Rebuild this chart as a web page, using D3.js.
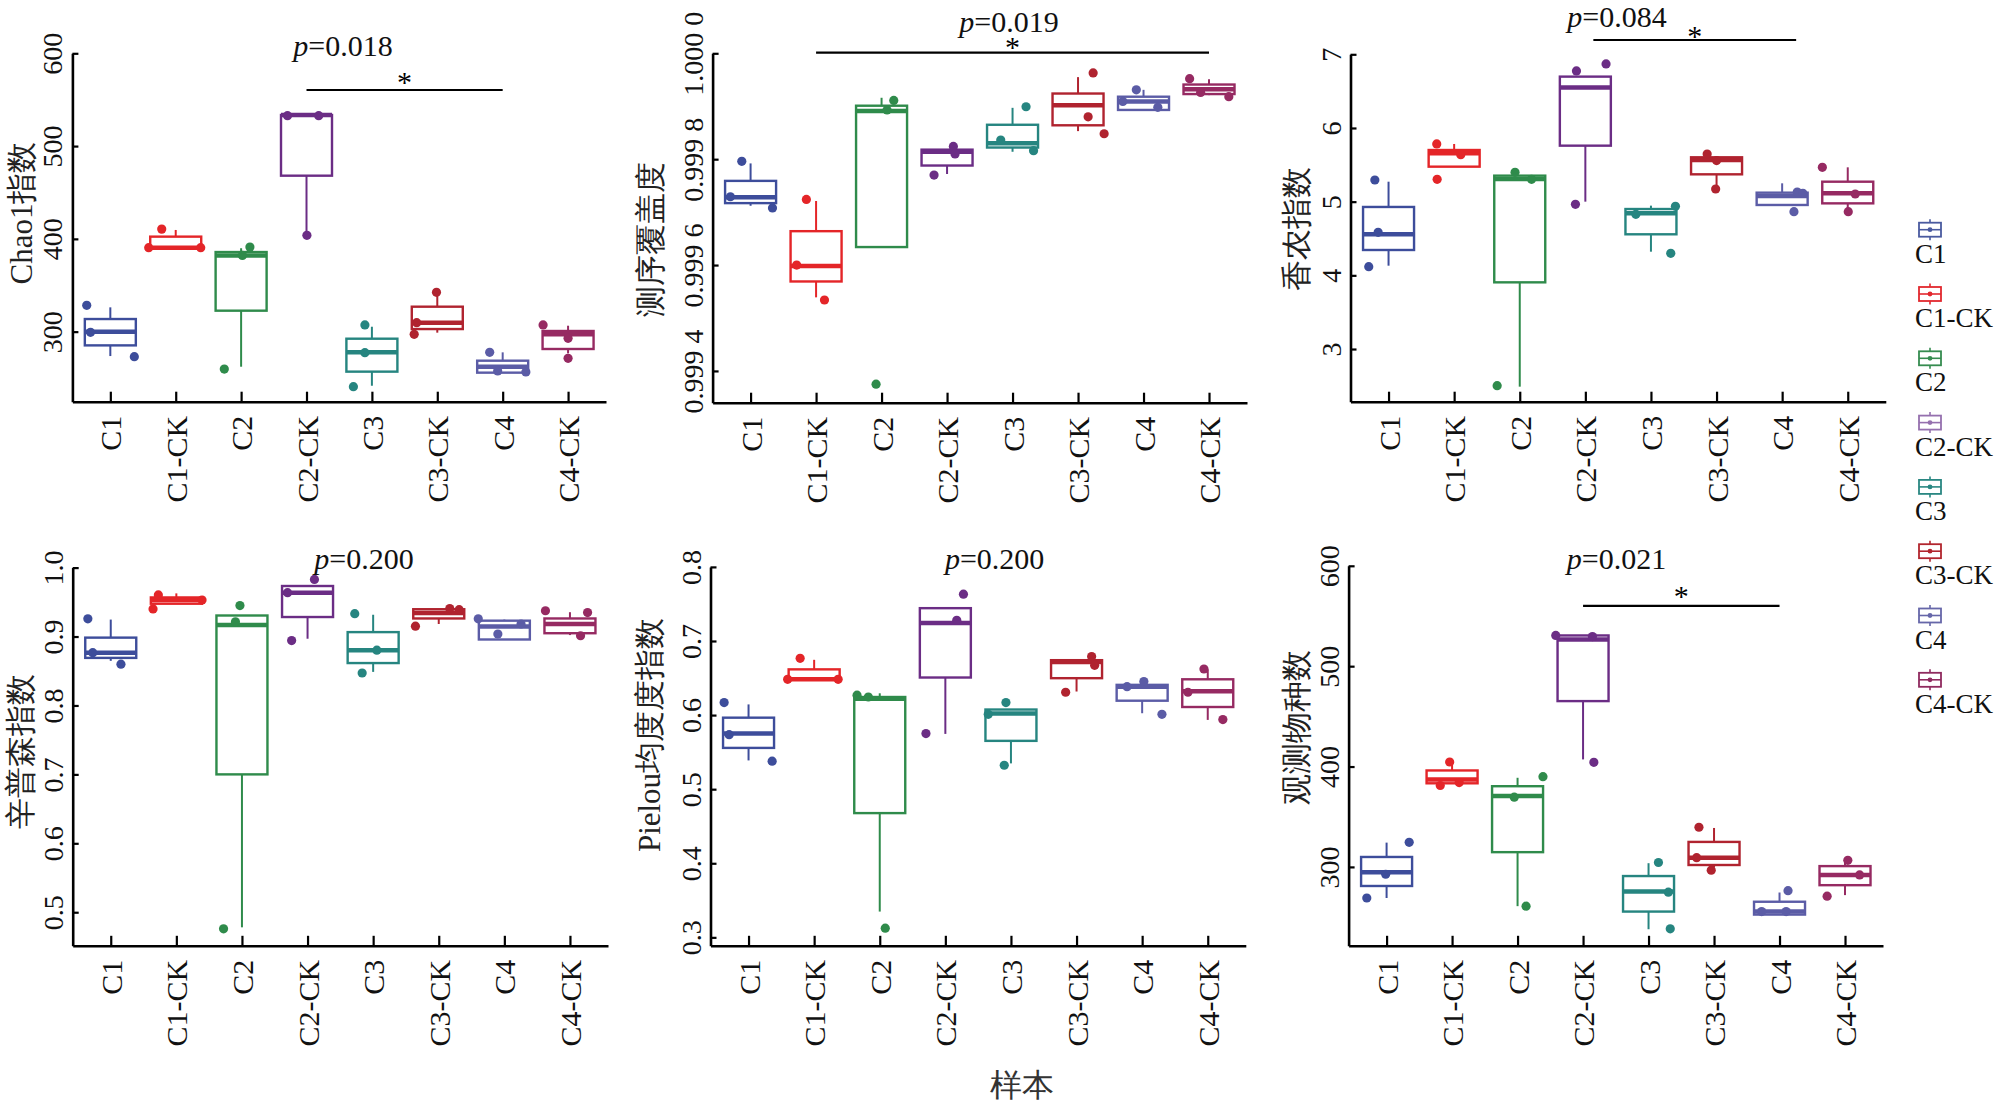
<!DOCTYPE html>
<html>
<head>
<meta charset="utf-8">
<script src="https://cdn.jsdelivr.net/npm/d3@7"></script>
<style>
  body { margin: 0; background: #fff; }
</style>
</head>
<body>
<div id="chart"></div>
<script>
//////////////////// data ////////////////////
const groups = ["C1", "C1-CK", "C2", "C2-CK", "C3", "C3-CK", "C4", "C4-CK"];
const groupColors = ["#3d4d9b", "#e42528", "#2f8b4b", "#6b2d85", "#268580", "#b0232f", "#5b5ca6", "#962a62"];
const legendColors = ["#4a5a9f", "#e2282e", "#368c50", "#9570ae", "#2a8782", "#b2262e", "#6667a9", "#8f2b5f"];

// box stats per group: [lower whisker, q1, median, q3, upper whisker]
const chao1Box = [
  [273.7, 285.2, 300.0, 313.6, 326.2], [390.5, 390.5, 390.5, 402.4, 409.6],
  [262.2, 322.6, 382.0, 385.8, 389.9], [408.0, 468.1, 533.5, 533.5, 533.5],
  [241.7, 256.9, 277.7, 292.4, 305.3], [298.9, 302.8, 309.7, 326.9, 339.5],
  [255.8, 255.8, 262.2, 268.7, 277.7], [276.6, 281.3, 297.1, 300.7, 306.4]
];
const chao1Pts = [
  [328.4, 299.3, 273.0], [410.5, 390.5, 390.5], [391.1, 382.1, 259.7], [532.8, 532.8, 403.8],
  [307.2, 277.3, 240.7], [342.4, 309.7, 297.1], [277.7, 257.6, 256.5], [307.2, 292.8, 271.2]
];
const chao1Domain = [224.5, 600];
const chao1Ticks = [300, 400, 500, 600];

const coverageBox = [
  [0.999712, 0.999717, 0.999728, 0.999759, 0.999792], [0.999539, 0.999569, 0.999598, 0.999664, 0.999721],
  [0.999634, 0.999634, 0.999891, 0.999901, 0.999916], [0.999772, 0.999788, 0.999814, 0.999818, 0.999818],
  [0.999814, 0.999822, 0.999830, 0.999865, 0.999897], [0.999853, 0.999864, 0.999902, 0.999924, 0.999955],
  [0.999893, 0.999893, 0.999909, 0.999918, 0.999931], [0.999921, 0.999923, 0.999932, 0.999941, 0.999951]
];
const coveragePts = [
  [0.999796, 0.999729, 0.999708], [0.999724, 0.999600, 0.999534], [0.999911, 0.999893, 0.999375],
  [0.999824, 0.999810, 0.999770], [0.999899, 0.999836, 0.999816], [0.999963, 0.999880, 0.999848],
  [0.999931, 0.999909, 0.999898], [0.999952, 0.999926, 0.999918]
];
const coverageDomain = [0.99934, 1.0];
const coverageTicks = [0.9994, 0.9996, 0.9998, 1.0];
const coverageTickLabels = ["0.999 4", "0.999 6", "0.999 8", "1.000 0"];

const shannonBox = [
  [4.131, 4.344, 4.557, 4.928, 5.271], [5.475, 5.475, 5.656, 5.701, 5.783],
  [2.489, 3.905, 5.308, 5.353, 5.353], [5.000, 5.760, 6.548, 6.697, 6.697],
  [4.321, 4.557, 4.842, 4.900, 4.946], [5.226, 5.371, 5.566, 5.602, 5.602],
  [4.955, 4.955, 5.077, 5.122, 5.249], [4.878, 4.977, 5.113, 5.271, 5.466]
];
const shannonPts = [
  [5.294, 4.584, 4.118], [5.783, 5.638, 5.303], [5.398, 5.303, 2.502], [6.869, 6.774, 4.964],
  [4.937, 4.828, 4.299], [5.647, 5.557, 5.172], [5.131, 5.113, 4.864], [5.466, 5.104, 4.864]
];
const shannonDomain = [2.285, 7];
const shannonTicks = [3, 4, 5, 6, 7];

const simpsonBox = [
  [0.8647, 0.8690, 0.8765, 0.8984, 0.9246], [0.9476, 0.9476, 0.9529, 0.9567, 0.9626],
  [0.4781, 0.7000, 0.9166, 0.9305, 0.9305], [0.8968, 0.9283, 0.9636, 0.9733, 0.9733],
  [0.8487, 0.8615, 0.8802, 0.9064, 0.9316], [0.9182, 0.9262, 0.9342, 0.9396, 0.9396],
  [0.8957, 0.8957, 0.9144, 0.9230, 0.9246], [0.9021, 0.9048, 0.9182, 0.9262, 0.9353]
];
const simpsonPts = [
  [0.9257, 0.8765, 0.8599], [0.9604, 0.9401, 0.9529], [0.9449, 0.9214, 0.4759], [0.9829, 0.9636, 0.8941],
  [0.9332, 0.8802, 0.8471], [0.9406, 0.9390, 0.9150], [0.9257, 0.9182, 0.9037], [0.9374, 0.9348, 0.9011]
];
const simpsonDomain = [0.4513, 1.0];
const simpsonTicks = [0.5, 0.6, 0.7, 0.8, 0.9, 1.0];

const pielouBox = [
  [0.5388, 0.5557, 0.5751, 0.5965, 0.6144], [0.6483, 0.6483, 0.6483, 0.6617, 0.6746],
  [0.3348, 0.4677, 0.6219, 0.6244, 0.6294], [0.5746, 0.6507, 0.7244, 0.7443, 0.7443],
  [0.5348, 0.5652, 0.6020, 0.6075, 0.6075], [0.6318, 0.6498, 0.6716, 0.6741, 0.6741],
  [0.6025, 0.6194, 0.6383, 0.6408, 0.6418], [0.5935, 0.6109, 0.6323, 0.6483, 0.6617]
];
const pielouPts = [
  [0.6169, 0.5736, 0.5378], [0.6766, 0.6483, 0.6483], [0.6269, 0.6244, 0.3124], [0.7632, 0.7279, 0.5751],
  [0.6169, 0.6010, 0.5323], [0.6791, 0.6672, 0.6308], [0.6453, 0.6383, 0.6010], [0.6622, 0.6308, 0.5940]
];
const pielouDomain = [0.2886, 0.8];
const pielouTicks = [0.3, 0.4, 0.5, 0.6, 0.7, 0.8];

const observedBox = [
  [269.0, 281.0, 294.6, 309.9, 324.2], [383.3, 383.3, 387.0, 396.1, 404.5],
  [260.9, 314.7, 370.6, 380.4, 388.8], [407.1, 465.2, 526.6, 530.6, 530.6],
  [237.9, 255.5, 275.6, 290.9, 303.7], [299.3, 301.9, 309.2, 324.9, 338.8],
  [252.5, 252.5, 255.5, 265.3, 274.5], [271.9, 281.8, 292.0, 300.8, 304.8]
];
const observedPts = [
  [324.5, 292.7, 269.0], [404.5, 384.0, 381.1], [389.9, 369.5, 260.9], [530.6, 529.5, 404.2],
  [304.4, 274.8, 238.3], [339.5, 309.2, 296.7], [276.3, 255.5, 255.5], [306.6, 292.0, 270.8]
];
const observedDomain = [221.4, 600];
const observedTicks = [300, 400, 500, 600];

//////////////////// layout ////////////////////
// serif latin first; CJK glyphs fall back to Noto CJK
const fontStack = "'Liberation Serif', 'DejaVu Serif', serif";

// horizontal jitter of the points (px)
const chao1Jitter = [[-23.6, -19.8, 24], [-14, -27, 25], [8.8, 1.3, -16.8], [-19, 12.2, 0.4],
  [-7, -7, -18.5], [-0.8, -20.6, -23.1], [-13, -5, 23.2], [-25, 0, 0]];
const coverageJitter = [[-8.8, -20.2, 21.9], [-9.7, -19.4, 8.4], [12.2, 5.5, -5.5], [6.3, 8, -13],
  [13.5, -11.8, 21], [15.1, 10.1, 26.1], [-7.2, -20.7, 14.3], [-19.4, -8.4, 19.8]];
const shannonJitter = [[-13.7, -10.4, -19.8], [-17.4, 6.6, -17], [-4.7, 11.8, -22.6], [20.7, -8.9, -9.9],
  [24.5, -15.1, 19.8], [-9.4, 0, -0.9], [15.1, 20.7, 11.8], [-25.4, 7.5, 0.5]];
const simpsonJitter = [[-22.9, -18, 10.2], [-18, -23.3, 25.7], [-2, -6.5, -18.4], [6.9, -20, -15.9],
  [-18.4, 3.7, -11], [11, 20.4, -23.3], [-26.1, 16.7, -6.5], [-24.5, 17.6, 10.6]];
const pielouJitter = [[-24.4, -19.4, 23.6], [-14, -26.5, 24], [-22.7, -11.4, 5.5], [18.1, 11.4, -19.4],
  [-5, -22.7, -6.7], [15.1, 18.1, -10.9], [1.7, -15.1, 19.8], [-3.8, -19.8, 15.1]];
const observedJitter = [[22.6, -0.9, -19.8], [-2.4, 7.1, -11.8], [25.4, -3.3, 8.5], [-27.3, 9.4, 10.8],
  [9.9, 19.8, 21.7], [-15.1, -17.4, -2.8], [8.5, -17.9, 6.6], [2.8, 14.6, -17.9]];

const panels = [
  { box: chao1Box, pts: chao1Pts, jit: chao1Jitter, domain: chao1Domain, ticks: chao1Ticks,
    left: 72.4, right: 606, top: 53.3, bottom: 401.7,
    title: "Chao1指数", titleX: 32, titleY: 213,
    pText: "0.018", pX: 343, pY: 56, sig: ["C2-CK", "C4"], sigY: 90, starY: 92 },
  { box: coverageBox, pts: coveragePts, jit: coverageJitter, domain: coverageDomain, ticks: coverageTicks,
    tickLabels: coverageTickLabels, left: 712.6, right: 1247, top: 53.3, bottom: 402.7,
    title: "测序覆盖度", titleX: 661, titleY: 239,
    pText: "0.019", pX: 1009, pY: 31.7, sig: ["C1-CK", "C4-CK"], sigY: 52.7, starY: 56.7 },
  { box: shannonBox, pts: shannonPts, jit: shannonJitter, domain: shannonDomain, ticks: shannonTicks,
    left: 1350.5, right: 1885.8, top: 54.3, bottom: 401.7,
    title: "香农指数", titleX: 1307, titleY: 229,
    pText: "0.084", pX: 1617, pY: 27, sig: ["C2-CK", "C4"], sigShift: [8, 14], sigY: 40, starY: 45.7 },
  { box: simpsonBox, pts: simpsonPts, jit: simpsonJitter, domain: simpsonDomain, ticks: simpsonTicks,
    tickFormat: d3.format(".1f"), left: 72.7, right: 608, top: 567.6, bottom: 945.8,
    title: "辛普森指数", titleX: 31, titleY: 751,
    pText: "0.200", pX: 364, pY: 568.7 },
  { box: pielouBox, pts: pielouPts, jit: pielouJitter, domain: pielouDomain, ticks: pielouTicks,
    tickFormat: d3.format(".1f"), left: 710.5, right: 1245.8, top: 566.9, bottom: 945.8,
    title: "Pielou均度度指数", titleX: 660, titleY: 735,
    pText: "0.200", pX: 994.6, pY: 568.7 },
  { box: observedBox, pts: observedPts, jit: observedJitter, domain: observedDomain, ticks: observedTicks,
    left: 1348.6, right: 1883, top: 565.8, bottom: 945.8,
    title: "观测物种数", titleX: 1307, titleY: 727,
    pText: "0.021", pX: 1616.5, pY: 568.7, sig: ["C2-CK", "C4"], sigY: 605.9, starY: 605.8 }
];

const boxWidth = 51;

const svg = d3.select("#chart")
  .append("svg")
  .attr("width", 1999)
  .attr("height", 1105)
  .style("background", "#fff")
  .style("font-family", fontStack);

function drawPanel(p) {
  const g = svg.append("g");
  const x = d3.scalePoint().domain(groups).range([p.left, p.right]).padding(0.58);
  const y = d3.scaleLinear().domain(p.domain).range([p.bottom, p.top]);

  //boxes
  groups.forEach((grp, i) => {
    const [lo, q1, med, q3, hi] = p.box[i];
    const cx = x(grp);
    const col = groupColors[i];
    const bg = g.append("g");
    bg.append("line").attr("x1", cx).attr("x2", cx).attr("y1", y(lo)).attr("y2", y(q1))
      .attr("stroke", col).attr("stroke-width", 2);
    bg.append("line").attr("x1", cx).attr("x2", cx).attr("y1", y(q3)).attr("y2", y(hi))
      .attr("stroke", col).attr("stroke-width", 2);
    bg.append("rect")
      .attr("x", cx - boxWidth / 2).attr("width", boxWidth)
      .attr("y", y(q3)).attr("height", Math.max(0.5, y(q1) - y(q3)))
      .attr("fill", "#fff").attr("stroke", col).attr("stroke-width", 2.4);
    bg.append("line").attr("x1", cx - boxWidth / 2).attr("x2", cx + boxWidth / 2)
      .attr("y1", y(med)).attr("y2", y(med))
      .attr("stroke", col).attr("stroke-width", 4.5);
  });

  //jittered points on top
  groups.forEach((grp, i) => {
    g.append("g").selectAll("circle")
      .data(p.pts[i])
      .join("circle")
      .attr("cx", (d, j) => x(grp) + p.jit[i][j])
      .attr("cy", (d) => y(d))
      .attr("r", 4.6)
      .attr("fill", groupColors[i]);
  });

  //y axis (ticks inside, labels rotated)
  const yAxis = d3.axisLeft(y).tickValues(p.ticks).tickSizeInner(-6).tickSizeOuter(0)
    .tickFormat((d, i) => p.tickLabels ? p.tickLabels[i] : (p.tickFormat ? p.tickFormat(d) : d));
  const ya = g.append("g").attr("transform", `translate(${p.left},0)`).call(yAxis)
    .attr("font-family", fontStack);
  ya.select(".domain").attr("stroke-width", 2.6).attr("stroke", "#000");
  ya.selectAll(".tick line").attr("stroke-width", 2.2).attr("stroke", "#000");
  ya.selectAll(".tick text")
    .attr("x", null).attr("dy", null)
    .attr("text-anchor", "middle")
    .attr("transform", "translate(-10,0) rotate(-90)")
    .style("font-size", "28px")
    .attr("fill", "#111");

  //x axis
  const xAxis = d3.axisBottom(x).tickSizeInner(-10).tickSizeOuter(0);
  const xa = g.append("g").attr("transform", `translate(0,${p.bottom})`).call(xAxis)
    .attr("font-family", fontStack);
  xa.select(".domain").attr("stroke-width", 2.6).attr("stroke", "#000");
  xa.selectAll(".tick line").attr("stroke-width", 2.2).attr("stroke", "#000");
  xa.selectAll(".tick text")
    .attr("y", null).attr("dy", "0.35em")
    .attr("text-anchor", "end")
    .attr("transform", "translate(0,14) rotate(-90)")
    .style("font-size", "30px")
    .attr("fill", "#111");

  //y label
  g.append("text")
    .attr("transform", `translate(${p.titleX},${p.titleY}) rotate(-90)`)
    .attr("text-anchor", "middle")
    .style("font-size", "31px")
    .attr("fill", "#222")
    .text(p.title);

  //p value
  const pt = g.append("text")
    .attr("x", p.pX).attr("y", p.pY)
    .attr("text-anchor", "middle")
    .style("font-size", "30px")
    .attr("fill", "#111");
  pt.append("tspan").style("font-style", "italic").text("p");
  pt.append("tspan").text("=" + p.pText);

  //significance bar
  if (p.sig) {
    const shift = p.sigShift || [0, 0];
    const x1 = x(p.sig[0]) + shift[0];
    const x2 = x(p.sig[1]) + shift[1];
    g.append("line").attr("x1", x1).attr("x2", x2).attr("y1", p.sigY).attr("y2", p.sigY)
      .attr("stroke", "#000").attr("stroke-width", 2.2);
    g.append("text")
      .attr("x", (x1 + x2) / 2).attr("y", p.starY)
      .attr("text-anchor", "middle")
      .style("font-size", "30px")
      .text("*");
  }
}

panels.forEach(drawPanel);

//shared x title
svg.append("text")
  .attr("x", 1022).attr("y", 1096)
  .attr("text-anchor", "middle")
  .style("font-size", "32px")
  .attr("fill", "#333")
  .text("样本");

//legend
const legend = svg.append("g").attr("transform", "translate(1930,229.7)");
groups.forEach((grp, i) => {
  const item = legend.append("g").attr("transform", `translate(0,${i * 64.3})`);
  const col = legendColors[i];
  item.append("line").attr("x1", 0).attr("x2", 0).attr("y1", -10.5).attr("y2", 10.5)
    .attr("stroke", col).attr("stroke-width", 1.6);
  item.append("rect").attr("x", -11).attr("y", -7).attr("width", 22).attr("height", 14)
    .attr("fill", "#fff").attr("stroke", col).attr("stroke-width", 1.8);
  item.append("line").attr("x1", -11).attr("x2", 11).attr("y1", 0).attr("y2", 0)
    .attr("stroke", col).attr("stroke-width", 1.6);
  item.append("circle").attr("r", 2.4).attr("fill", col);
  item.append("text")
    .attr("x", -15).attr("y", 33)
    .style("font-size", "27px")
    .attr("fill", "#111")
    .text(grp);
});
</script>
</body>
</html>
